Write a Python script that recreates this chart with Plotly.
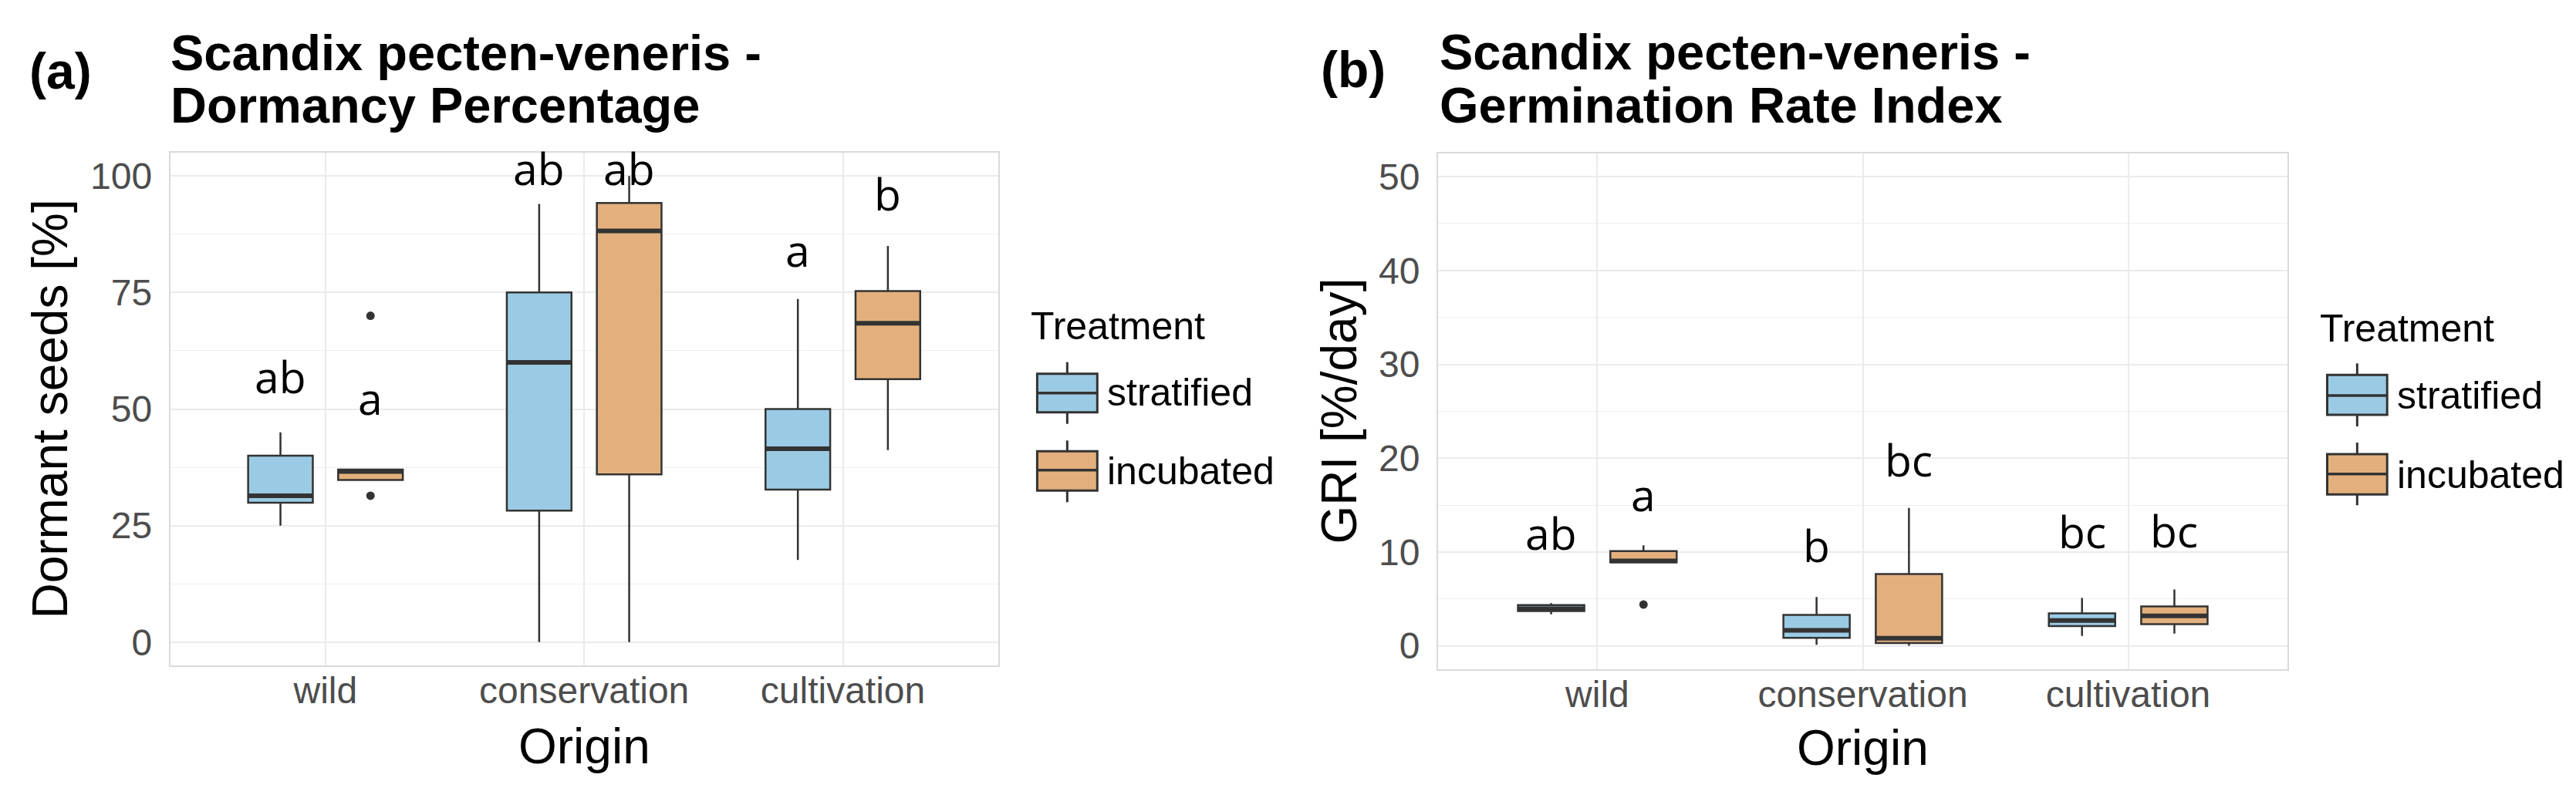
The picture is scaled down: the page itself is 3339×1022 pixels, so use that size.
import plotly.graph_objects as go

# ---------------- data ----------------
ORIGINS = ["wild", "conservation", "cultivation"]
TREATMENTS = ["stratified", "incubated"]

# Panel (a) Dormancy percentage [%]
DORM_STRAT_LOW = [25.0, 0.0, 17.6]
DORM_STRAT_Q1 = [29.9, 28.2, 32.7]
DORM_STRAT_MED = [31.4, 60.0, 41.5]
DORM_STRAT_Q3 = [40.0, 75.0, 50.0]
DORM_STRAT_HIGH = [45.0, 94.0, 73.6]

DORM_INC_LOW = [34.8, 0.0, 41.2]
DORM_INC_Q1 = [34.8, 36.0, 56.4]
DORM_INC_MED = [36.6, 88.2, 68.4]
DORM_INC_Q3 = [37.0, 94.2, 75.3]
DORM_INC_HIGH = [37.0, 100.0, 85.0]

DORM_INC_OUT_ORIGIN = ["wild", "wild"]
DORM_INC_OUT = [70.0, 31.4]

DORM_LET_STRAT = ["ab", "ab", "a"]
DORM_LET_STRAT_Y = [52.8, 97.5, 80.0]
DORM_LET_INC = ["a", "ab", "b"]
DORM_LET_INC_Y = [48.2, 97.5, 92.0]

# Panel (b) Germination rate index [%/day]
GRI_STRAT_LOW = [3.35, 0.1, 1.05]
GRI_STRAT_Q1 = [3.7, 0.85, 2.1]
GRI_STRAT_MED = [3.95, 1.65, 2.7]
GRI_STRAT_Q3 = [4.35, 3.3, 3.45]
GRI_STRAT_HIGH = [4.55, 5.2, 5.1]

GRI_INC_LOW = [8.85, 0.0, 1.3]
GRI_INC_Q1 = [8.9, 0.3, 2.3]
GRI_INC_MED = [9.05, 0.8, 3.2]
GRI_INC_Q3 = [10.1, 7.65, 4.2]
GRI_INC_HIGH = [10.7, 14.7, 6.0]

GRI_INC_OUT_ORIGIN = ["wild"]
GRI_INC_OUT = [4.4]

GRI_LET_STRAT = ["ab", "b", "bc"]
GRI_LET_STRAT_Y = [10.0, 8.67, 10.15]
GRI_LET_INC = ["a", "bc", "bc"]
GRI_LET_INC_Y = [14.05, 17.76, 10.2]

DORM_TICKS = [0, 25, 50, 75, 100]
GRI_TICKS = [0, 10, 20, 30, 40, 50]

# ---------------- style ----------------
W, H = 3339, 1022
BLUE = "#9BCBE4"
ORANGE = "#E3B07D"
EDGE = "#333333"
GRID = "#EBEBEB"
FONT = "Liberation Sans, Arial, sans-serif"
LETTER_FONT = "Open Sans, sans-serif"
BOX_W = 0.25
DODGE = 0.174
XR = [0.4, 3.6]
LET_SIZE = 57


def px_x(p):
    return p / W


def px_y(p):
    return 1 - p / H


PANELS = {
    "a": dict(xd=[px_x(212.7), px_x(1285.7)], yd=[px_y(855), px_y(190)], yr=[-5, 105],
              ticks=DORM_TICKS, minor=12.5),
    "b": dict(xd=[px_x(1856), px_x(2957)], yd=[px_y(860), px_y(190.7)], yr=[-2.5, 52.5],
              ticks=GRI_TICKS, minor=5),
}

pos = {o: i + 1 for i, o in enumerate(ORIGINS)}
offs = {"stratified": -DODGE, "incubated": DODGE}
fills = {"stratified": BLUE, "incubated": ORANGE}

fig = go.Figure()


def add_boxes(ax, ay, treat, low, q1, med, q3, high, box_px):
    xs = [pos[o] + offs[treat] for o in ORIGINS]
    fig.add_trace(go.Box(
        x=xs, q1=q1, median=med, q3=q3, lowerfence=low, upperfence=high,
        width=BOX_W, whiskerwidth=0, fillcolor=fills[treat],
        line=dict(color=EDGE, width=2.5), boxpoints=False,
        name=treat, showlegend=False, xaxis=ax, yaxis=ay, hoverinfo="skip"))
    fig.add_trace(go.Scatter(
        x=xs, y=med, mode="markers", xaxis=ax, yaxis=ay, showlegend=False,
        hoverinfo="skip",
        marker=dict(symbol="line-ew", size=box_px / 1.4, color=EDGE,
                    line=dict(color=EDGE, width=6))))


def add_outliers(ax, ay, treat, origins, vals):
    fig.add_trace(go.Scatter(
        x=[pos[o] + offs[treat] for o in origins], y=vals, mode="markers",
        xaxis=ax, yaxis=ay, showlegend=False, hoverinfo="skip",
        marker=dict(size=11, color=EDGE)))


def box_px(key):
    d = PANELS[key]["xd"]
    return BOX_W * (d[1] - d[0]) * W / (XR[1] - XR[0])


add_boxes("x", "y", "stratified", DORM_STRAT_LOW, DORM_STRAT_Q1, DORM_STRAT_MED,
          DORM_STRAT_Q3, DORM_STRAT_HIGH, box_px("a"))
add_boxes("x", "y", "incubated", DORM_INC_LOW, DORM_INC_Q1, DORM_INC_MED,
          DORM_INC_Q3, DORM_INC_HIGH, box_px("a"))
add_outliers("x", "y", "incubated", DORM_INC_OUT_ORIGIN, DORM_INC_OUT)

add_boxes("x2", "y2", "stratified", GRI_STRAT_LOW, GRI_STRAT_Q1, GRI_STRAT_MED,
          GRI_STRAT_Q3, GRI_STRAT_HIGH, box_px("b"))
add_boxes("x2", "y2", "incubated", GRI_INC_LOW, GRI_INC_Q1, GRI_INC_MED,
          GRI_INC_Q3, GRI_INC_HIGH, box_px("b"))
add_outliers("x2", "y2", "incubated", GRI_INC_OUT_ORIGIN, GRI_INC_OUT)

annotations = []


def letters(xref, yref, treat, labs, ys):
    for o, lab, yv in zip(ORIGINS, labs, ys):
        annotations.append(dict(
            x=pos[o] + offs[treat], y=yv, xref=xref, yref=yref, text=lab,
            showarrow=False, xanchor="center", yanchor="middle",
            yshift=0.388 * LET_SIZE + 3,
            font=dict(family=LETTER_FONT, size=LET_SIZE, color="black")))


letters("x", "y", "stratified", DORM_LET_STRAT, DORM_LET_STRAT_Y)
letters("x", "y", "incubated", DORM_LET_INC, DORM_LET_INC_Y)
letters("x2", "y2", "stratified", GRI_LET_STRAT, GRI_LET_STRAT_Y)
letters("x2", "y2", "incubated", GRI_LET_INC, GRI_LET_INC_Y)


def ptext(x, y, text, size, bold=False, angle=0, xanchor="left", color="black"):
    annotations.append(dict(
        x=px_x(x), y=px_y(y), xref="paper", yref="paper", text=text,
        showarrow=False, xanchor=xanchor, yanchor="middle", textangle=angle,
        font=dict(family=FONT, size=size, color=color,
                  weight="bold" if bold else "normal")))


# panel labels and titles
ptext(28, 84, "(a)", 66, bold=True)
ptext(211, 61, "Scandix pecten-veneris -", 65, bold=True)
ptext(211, 128, "Dormancy Percentage", 65, bold=True)
ptext(1702, 82, "(b)", 66, bold=True)
ptext(1856, 59, "Scandix pecten-veneris -", 65, bold=True)
ptext(1856, 128, "Germination Rate Index", 65, bold=True)

# axis titles
ptext(56, 522.5, "Dormant seeds [%]", 64, angle=-90, xanchor="center")
ptext(749, 960, "Origin", 64, xanchor="center")
ptext(1727, 525.5, "GRI [%/day]", 64, angle=-90, xanchor="center")
ptext(2406.5, 962, "Origin", 64, xanchor="center")

shapes = []


def legend(x0, title_y, box_x0, box_x1, entries):
    ptext(x0, title_y, "Treatment", 50)
    for treat, (b_top, b_bot, med, w_top, w_bot, tx, ty) in zip(TREATMENTS, entries):
        xc = (box_x0 + box_x1) / 2
        for (ya, yb) in [(w_top, b_top), (b_bot, w_bot)]:
            shapes.append(dict(type="line", xref="paper", yref="paper",
                               x0=px_x(xc), x1=px_x(xc), y0=px_y(ya), y1=px_y(yb),
                               line=dict(color=EDGE, width=3)))
        shapes.append(dict(type="rect", xref="paper", yref="paper",
                           x0=px_x(box_x0), x1=px_x(box_x1), y0=px_y(b_bot), y1=px_y(b_top),
                           fillcolor=fills[treat], line=dict(color=EDGE, width=3)))
        shapes.append(dict(type="line", xref="paper", yref="paper",
                           x0=px_x(box_x0), x1=px_x(box_x1), y0=px_y(med), y1=px_y(med),
                           line=dict(color=EDGE, width=3.5)))
        ptext(tx, ty, treat, 50)


legend(1326, 414.7, 1336.4, 1414.3, [
    (476.7, 526.7, 501.7, 461.7, 541.7, 1425, 501.3),
    (577.3, 628.3, 601.7, 563.3, 643.3, 1425, 603.0),
])
legend(2997, 418, 3008.5, 3086.2, [
    (478.3, 530.0, 505.0, 463.3, 545.0, 3097, 504.7),
    (581.0, 633.3, 606.7, 566.0, 647.3, 3097, 608.0),
])


def xaxis_cfg(key):
    return dict(domain=PANELS[key]["xd"], range=XR, tickvals=[1, 2, 3], ticktext=ORIGINS,
                showgrid=True, gridcolor=GRID, gridwidth=2.2, zeroline=False,
                showline=True, mirror=True, linecolor="#DADADA", linewidth=2,
                ticks="", ticklabelstandoff=-11,
                tickfont=dict(family=FONT, size=48, color="#4D4D4D"), fixedrange=True)


def yaxis_cfg(key, anchor):
    p = PANELS[key]
    return dict(domain=p["yd"], range=p["yr"], tickvals=p["ticks"], anchor=anchor,
                showgrid=True, gridcolor=GRID, gridwidth=2.2, zeroline=False,
                showline=True, mirror=True, linecolor="#DADADA", linewidth=2,
                ticks="", ticklabelstandoff=12,
                minor=dict(tick0=0, dtick=p["minor"], showgrid=True, gridcolor="#EFEFEF",
                           gridwidth=1.3, ticks=""),
                tickfont=dict(family=FONT, size=48, color="#4D4D4D"), fixedrange=True)


fig.update_layout(
    width=W, height=H, autosize=False,
    margin=dict(l=0, r=0, t=0, b=0),
    paper_bgcolor="white", plot_bgcolor="white",
    showlegend=False,
    xaxis=dict(**xaxis_cfg("a"), anchor="y"),
    yaxis=yaxis_cfg("a", "x"),
    xaxis2=dict(**xaxis_cfg("b"), anchor="y2"),
    yaxis2=yaxis_cfg("b", "x2"),
    annotations=annotations,
    shapes=shapes,
)

fig.write_html("out.html")
